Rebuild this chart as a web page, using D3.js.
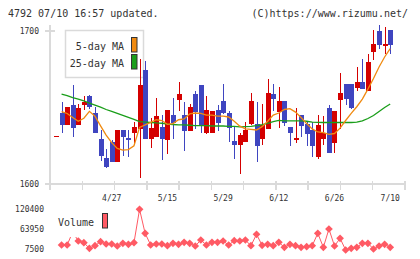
<!DOCTYPE html>
<html>
<head>
<meta charset="utf-8">
<script src="https://cdn.jsdelivr.net/npm/d3@7"></script>
<style>
  body { margin: 0; background: #fff; }
  svg { display: block; font-family: "DejaVu Sans Mono", monospace; }
</style>
</head>
<body>
<div id="chart"></div>
<script>
// Daily prices, 2020-04-13 .. 2020-07-10
const dates = [
    "4/13", "4/14", "4/15", "4/16", "4/17", "4/20", "4/21", "4/22", "4/23", "4/24",
    "4/27", "4/28", "4/30", "5/1", "5/7", "5/8", "5/11", "5/12", "5/13", "5/14",
    "5/15", "5/18", "5/19", "5/20", "5/21", "5/22", "5/25", "5/26", "5/27", "5/28",
    "5/29", "6/1", "6/2", "6/3", "6/4", "6/5", "6/8", "6/9", "6/10", "6/11",
    "6/12", "6/15", "6/16", "6/17", "6/18", "6/19", "6/22", "6/23", "6/24", "6/25",
    "6/26", "6/29", "6/30", "7/1", "7/2", "7/3", "7/6", "7/7", "7/8", "7/9",
    "7/10"
];
const opens = [
    1631.3, 1646.6, 1638.6, 1651.6, 1638.8, 1651.8, 1657.5, 1646.6, 1629.4, 1617.0,
    1627.5, 1614.6, 1635.3, 1630.1, 1633.5, 1636.0, 1674.5, 1629.6, 1630.9, 1637.3,
    1629.0, 1645.1, 1655.1, 1645.1, 1634.8, 1658.8, 1664.7, 1633.5, 1633.5, 1648.4,
    1654.2, 1646.2, 1628.1, 1625.7, 1627.6, 1639.0, 1639.2, 1629.6, 1636.1, 1658.8,
    1647.3, 1654.2, 1637.3, 1629.5, 1645.1, 1639.2, 1635.5, 1617.6, 1629.6, 1649.7,
    1627.0, 1655.1, 1665.4, 1665.4, 1662.9, 1666.7, 1660.8, 1686.3, 1700.0, 1691.2,
    1700.7
];
const highs = [
    1631.4, 1653.4, 1650.5, 1664.7, 1652.0, 1657.5, 1658.2, 1650.3, 1635.5, 1622.9,
    1628.8, 1635.6, 1635.6, 1635.3, 1640.7, 1681.4, 1680.4, 1643.1, 1655.9, 1644.8,
    1648.6, 1656.0, 1666.7, 1653.8, 1652.3, 1660.8, 1664.9, 1657.5, 1647.9, 1651.6,
    1665.4, 1647.7, 1637.5, 1633.5, 1640.5, 1659.5, 1653.6, 1652.3, 1668.6, 1665.4,
    1663.4, 1654.4, 1637.5, 1649.7, 1645.3, 1641.2, 1640.5, 1645.1, 1644.2, 1651.6,
    1647.9, 1672.5, 1665.6, 1665.6, 1676.5, 1681.9, 1684.8, 1700.7, 1703.9, 1702.6,
    1700.9
];
const lows = [
    1631.3, 1633.5, 1638.4, 1630.5, 1638.5, 1648.4, 1649.0, 1633.3, 1615.0, 1610.5,
    1614.3, 1614.3, 1618.3, 1617.8, 1627.0, 1603.6, 1629.4, 1623.5, 1630.7, 1616.0,
    1619.8, 1629.4, 1647.9, 1621.8, 1634.5, 1636.1, 1633.3, 1632.9, 1633.3, 1634.8,
    1646.0, 1627.6, 1616.5, 1606.7, 1627.4, 1638.8, 1614.6, 1625.7, 1635.9, 1647.9,
    1636.4, 1638.1, 1625.0, 1627.0, 1630.9, 1624.8, 1617.6, 1616.5, 1625.7, 1620.0,
    1620.5, 1636.0, 1651.6, 1649.0, 1660.8, 1662.1, 1660.6, 1681.0, 1688.4, 1685.0,
    1685.0
];
const closes = [
    1631.4, 1638.8, 1650.3, 1636.8, 1649.7, 1653.9, 1650.1, 1633.5, 1618.5, 1610.8,
    1614.6, 1635.3, 1630.9, 1628.8, 1637.5, 1664.7, 1629.6, 1636.8, 1644.4, 1629.1,
    1648.4, 1640.1, 1659.0, 1634.8, 1650.5, 1647.3, 1638.6, 1648.4, 1647.7, 1640.1,
    1646.2, 1636.3, 1625.7, 1632.0, 1635.5, 1654.2, 1625.0, 1638.6, 1659.5, 1655.4,
    1654.2, 1640.1, 1633.5, 1629.8, 1638.1, 1632.9, 1624.8, 1638.6, 1633.3, 1620.1,
    1647.7, 1659.5, 1655.8, 1649.7, 1666.7, 1662.3, 1679.7, 1691.5, 1691.0, 1691.5,
    1691.0
];
const ma5 = [
    null, 1647.3, 1646.1, 1643.5, 1641.0, 1643.0, 1647.5, 1644.3, 1638.0, 1632.0,
    1627.0, 1623.3, 1622.1, 1622.5, 1625.0, 1637.0, 1638.7, 1640.3, 1642.0, 1641.5,
    1639.0, 1639.5, 1642.0, 1642.5, 1645.8, 1646.4, 1646.1, 1645.0, 1645.0, 1644.4,
    1644.3, 1643.8, 1641.0, 1637.8, 1636.0, 1635.7, 1635.3, 1637.5, 1641.0, 1645.0,
    1646.4, 1648.7, 1649.2, 1647.0, 1643.5, 1639.5, 1636.0, 1634.0, 1633.6, 1632.5,
    1633.0, 1636.5, 1641.5, 1646.2, 1650.5, 1655.5, 1662.0, 1669.0, 1676.5, 1683.0,
    1688.5
];
const ma25 = [
    null, 1658.8, 1657.8, 1656.5, 1655.4, 1654.3, 1652.9, 1651.6, 1650.3, 1648.7,
    1647.4, 1646.1, 1644.8, 1643.5, 1642.2, 1640.8, 1640.5, 1640.2, 1639.9, 1639.7,
    1639.2, 1638.9, 1638.6, 1638.6, 1638.4, 1638.2, 1638.2, 1638.1, 1637.9, 1637.9,
    1637.9, 1637.7, 1637.6, 1637.3, 1637.5, 1637.7, 1638.1, 1638.8, 1639.7, 1640.7,
    1641.6, 1641.2, 1641.2, 1641.2, 1641.2, 1641.0, 1640.5, 1640.3, 1640.2, 1640.2,
    1640.2, 1640.2, 1640.2, 1640.2, 1640.5, 1641.2, 1642.8, 1644.8, 1647.4, 1650.0,
    1652.3
];
const volumes = [
    null, 18790, 18790, 55480, 30080, 25280, 9480, 16810, 28100, 21610,
    21610, 15970, 23590, 20770, 25280, 119550, 51810, 18790, 21610, 21610,
    16810, 23590, 20770, 26410, 23590, 15970, 32900, 18790, 26410, 26410,
    30080, 18790, 30930, 30080, 32900, 16810, 48990, 17940, 20770, 16810,
    26410, 12300, 20770, 16810, 12300, 13990, 16810, 51810, 12300, 63950,
    15970, 37700, 4680, 9480, 12300, 23590, 23590, 7500, 15970, 20770,
    12300
];

const dateLabels = ["4/27", "5/15", "5/29", "6/12", "6/26", "7/10"];
const priceTicks = [1600, 1700];
const volumeTicks = [7500, 63950, 120400];

const width = 420, height = 259;
const colorUp = "#d40000", colorDown = "#3f45c0";
const colorMa5 = "#f08a10", colorMa25 = "#1a9e1a", colorVol = "#ff5a64";
const gridColor = "#dadada", textColor = "#333";

const svg = d3.select("#chart")
    .append("svg")
    .attr("width", width)
    .attr("height", height);

// Scales
const x = d3.scalePoint().domain(d3.range(dates.length)).range([56, 390.2]);
const y = d3.scaleLinear().domain([1600, 1700]).range([184, 31]);
const yVol = d3.scaleLinear().domain([7500, 120400]).range([249, 209]);
const frame = d3.scaleLinear().domain([0, 11]).range([50, 405]);

// Header
svg.append("text")
    .attr("x", 8).attr("y", 16.5)
    .attr("font-size", "10px").attr("fill", textColor)
    .text("4792 07/10 16:57 updated.");
svg.append("text")
    .attr("x", 408).attr("y", 16.5)
    .attr("text-anchor", "end")
    .attr("font-size", "10px").attr("fill", textColor)
    .text("(C)https://www.rizumu.net/");

// Frame: y axis line, bottom line and tick marks
const axis = svg.append("g")
    .attr("stroke", gridColor)
    .attr("stroke-width", 1.5)
    .attr("shape-rendering", "crispEdges");
axis.append("line").attr("x1", frame(0)).attr("x2", frame(0)).attr("y1", 25).attr("y2", 190);
axis.append("line").attr("x1", frame(0)).attr("x2", frame(11)).attr("y1", y(1600)).attr("y2", y(1600));
axis.selectAll(".ytick")
    .data(priceTicks)
    .enter().append("line")
    .attr("x1", 45).attr("x2", 55)
    .attr("y1", d => y(d)).attr("y2", d => y(d));
axis.selectAll(".xtick")
    .data(frame.ticks(11))
    .enter().append("line")
    .attr("x1", d => frame(d)).attr("x2", d => frame(d))
    .attr("y1", 181).attr("y2", 190);

// Price labels
svg.selectAll(".price-label")
    .data(priceTicks)
    .enter().append("text")
    .attr("x", 39).attr("y", d => y(d) + 3)
    .attr("text-anchor", "end")
    .attr("font-size", "8px").attr("fill", textColor)
    .text(d => d);

// Date labels
svg.selectAll(".date-label")
    .data(dateLabels)
    .enter().append("text")
    .attr("x", d => x(dates.indexOf(d)))
    .attr("y", 201)
    .attr("text-anchor", "middle")
    .attr("font-size", "8px").attr("fill", textColor)
    .text(d => d);

// Legend box for moving averages
const legend = svg.append("g");
legend.append("rect")
    .attr("x", 65.5).attr("y", 30.5).attr("width", 78).attr("height", 47)
    .attr("fill", "#fff").attr("stroke", gridColor).attr("stroke-width", 1.5);
[["5-day MA", colorMa5, 50], ["25-day MA", colorMa25, 67]].forEach(([label, color, ty]) => {
    legend.append("text")
        .attr("x", 124).attr("y", ty)
        .attr("text-anchor", "end")
        .attr("font-size", "10px").attr("fill", textColor)
        .text(label);
    legend.append("rect")
        .attr("x", 131.5).attr("y", ty - 12.5).attr("width", 5.5).attr("height", 14.5)
        .attr("fill", color).attr("stroke", "#333").attr("stroke-width", 1);
});

// Candlesticks
const idx = d3.range(dates.length);
const candles = svg.append("g").attr("shape-rendering", "crispEdges");
const candleColor = i => closes[i] >= opens[i] ? colorUp : colorDown;

candles.selectAll(".wick")
    .data(idx.filter(i => highs[i] > lows[i] + 0.3))
    .enter().append("line")
    .attr("x1", i => Math.round(x(i)) + 0.5).attr("x2", i => Math.round(x(i)) + 0.5)
    .attr("y1", i => y(highs[i])).attr("y2", i => y(lows[i]))
    .attr("stroke", candleColor)
    .attr("stroke-width", 1);

candles.selectAll(".body")
    .data(idx)
    .enter().append("rect")
    .attr("x", i => Math.round(x(i)) - 2)
    .attr("width", 5)
    .attr("y", i => y(Math.max(opens[i], closes[i])))
    .attr("height", i => Math.max(1.5, Math.abs(y(opens[i]) - y(closes[i]))))
    .attr("fill", candleColor);

// Moving averages
const maLine = values => d3.line()
    .defined(i => values[i] != null)
    .x(i => x(i))
    .y(i => y(values[i]));

svg.append("path")
    .datum(idx)
    .attr("fill", "none")
    .attr("stroke", colorMa25)
    .attr("stroke-width", 1.3)
    .attr("d", maLine(ma25));

svg.append("path")
    .datum(idx)
    .attr("fill", "none")
    .attr("stroke", colorMa5)
    .attr("stroke-width", 1.3)
    .attr("d", maLine(ma5));

// Volume panel
svg.selectAll(".vol-label")
    .data(volumeTicks)
    .enter().append("text")
    .attr("x", 44).attr("y", d => yVol(d) + 3)
    .attr("text-anchor", "end")
    .attr("font-size", "8px").attr("fill", textColor)
    .text(d => d);

const volIdx = idx.filter(i => volumes[i] != null);

svg.append("path")
    .datum(volIdx)
    .attr("fill", "none")
    .attr("stroke", colorVol)
    .attr("stroke-width", 1)
    .attr("d", d3.line().x(i => x(i)).y(i => yVol(volumes[i])));

svg.selectAll(".vol-point")
    .data(volIdx)
    .enter().append("path")
    .attr("transform", i => `translate(${x(i)},${yVol(volumes[i])}) rotate(45)`)
    .attr("d", d3.symbol().type(d3.symbolSquare).size(30))
    .attr("fill", colorVol);

// Volume legend (its white box hides the line behind it)
svg.append("rect")
    .attr("x", 55).attr("y", 210).attr("width", 56).attr("height", 27)
    .attr("fill", "#fff");
svg.append("text")
    .attr("x", 58).attr("y", 226)
    .attr("font-size", "10px").attr("fill", textColor)
    .text("Volume");
svg.append("rect")
    .attr("x", 102.5).attr("y", 213.5).attr("width", 5).attr("height", 14.5)
    .attr("fill", colorVol).attr("stroke", "#333").attr("stroke-width", 1);
</script>
</body>
</html>
